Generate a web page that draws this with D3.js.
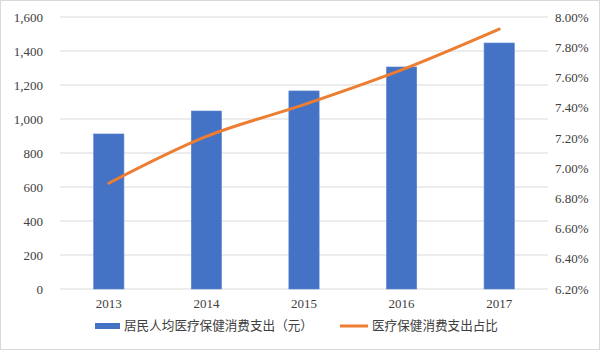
<!DOCTYPE html>
<html><head><meta charset="utf-8">
<script src="https://cdn.jsdelivr.net/npm/d3@7"></script>
<style>
html,body{margin:0;padding:0;background:#fff;}
svg{display:block;}
text{font-family:"Liberation Serif","Noto Sans CJK SC",serif;fill:#404040;}
</style></head>
<body>
<svg id="chart" width="600" height="350"></svg>
<script>
const categories = ["2013","2014","2015","2016","2017"];
const spending = [912, 1047, 1165, 1306, 1447];
const share = [6.90, 7.21, 7.42, 7.65, 7.92];
const leftTicks = [0,200,400,600,800,1000,1200,1400,1600];
const rightTicks = [6.2,6.4,6.6,6.8,7.0,7.2,7.4,7.6,7.8,8.0];
const seriesNames = ["居民人均医疗保健消费支出（元）","医疗保健消费支出占比"];

const svg = d3.select("#chart");
const W = 600, H = 350;
svg.append("rect").attr("x",0.5).attr("y",0.5).attr("width",W-1).attr("height",H-1)
  .attr("fill","#fff").attr("stroke","#d9d9d9");

const m = {left:60, right:52, top:17, bottom:61};
const x = d3.scaleBand().domain(categories).range([m.left, W-m.right]).paddingInner(0.69).paddingOuter(0.345);
const xc = d3.scalePoint().domain(categories).range([m.left, W-m.right]).padding(0.5);
const yL = d3.scaleLinear().domain([0,1600]).range([H-m.bottom, m.top]);
const yR = d3.scaleLinear().domain([6.2,8.0]).range([H-m.bottom, m.top]);

// gridlines
svg.append("g").selectAll("line").data(leftTicks).join("line")
  .attr("x1",m.left).attr("x2",W-m.right)
  .attr("y1",d=>yL(d)).attr("y2",d=>yL(d))
  .attr("stroke","#d9d9d9").attr("stroke-width",1);

// left axis
const fmtL = d3.format(",");
const gL = svg.append("g").attr("transform",`translate(${m.left},0)`)
  .call(d3.axisLeft(yL).tickValues(leftTicks).tickFormat(fmtL).tickSize(0).tickPadding(17));
gL.select(".domain").remove();
gL.selectAll("text").style("font-size","13px").attr("fill","#404040");

// right axis
const fmtR = d => d3.format(".2f")(d)+"%";
const gR = svg.append("g").attr("transform",`translate(${W-m.right},0)`)
  .call(d3.axisRight(yR).tickValues(rightTicks).tickFormat(fmtR).tickSize(0).tickPadding(7));
gR.select(".domain").remove();
gR.selectAll("text").style("font-size","13px").attr("fill","#404040");

// x axis
const gX = svg.append("g").attr("transform",`translate(0,${H-m.bottom})`)
  .call(d3.axisBottom(x).tickSize(0).tickPadding(10));
gX.select(".domain").remove();
gX.selectAll("text").style("font-size","13px").attr("fill","#404040");

// bars
svg.append("g").selectAll("rect").data(categories).join("rect")
  .attr("x",d=>x(d)).attr("width",x.bandwidth())
  .attr("y",(d,i)=>yL(spending[i])).attr("height",(d,i)=>yL(0)-yL(spending[i]))
  .attr("fill","#4472C4").attr("stroke","#5b86d0").attr("stroke-width",0.6);

// line
const line = d3.line().x((d,i)=>xc(categories[i])).y(d=>yR(d)).curve(d3.curveCatmullRom.alpha(0.5));
svg.append("path").datum(share).attr("d",line)
  .attr("fill","none").attr("stroke","#ED7D31").attr("stroke-width",3).attr("stroke-linecap","round");

// legend
const lg = svg.append("g");
lg.append("rect").attr("x",95).attr("y",323).attr("width",25).attr("height",6).attr("fill","#4472C4");
lg.append("text").attr("x",124).attr("y",326).attr("dy","0.35em").style("font-size","12.6px").text(seriesNames[0]);
lg.append("line").attr("x1",340).attr("x2",368).attr("y1",326).attr("y2",326)
  .attr("stroke","#ED7D31").attr("stroke-width",3);
lg.append("text").attr("x",372).attr("y",326).attr("dy","0.35em").style("font-size","12.6px").text(seriesNames[1]);
</script>
</body></html>
